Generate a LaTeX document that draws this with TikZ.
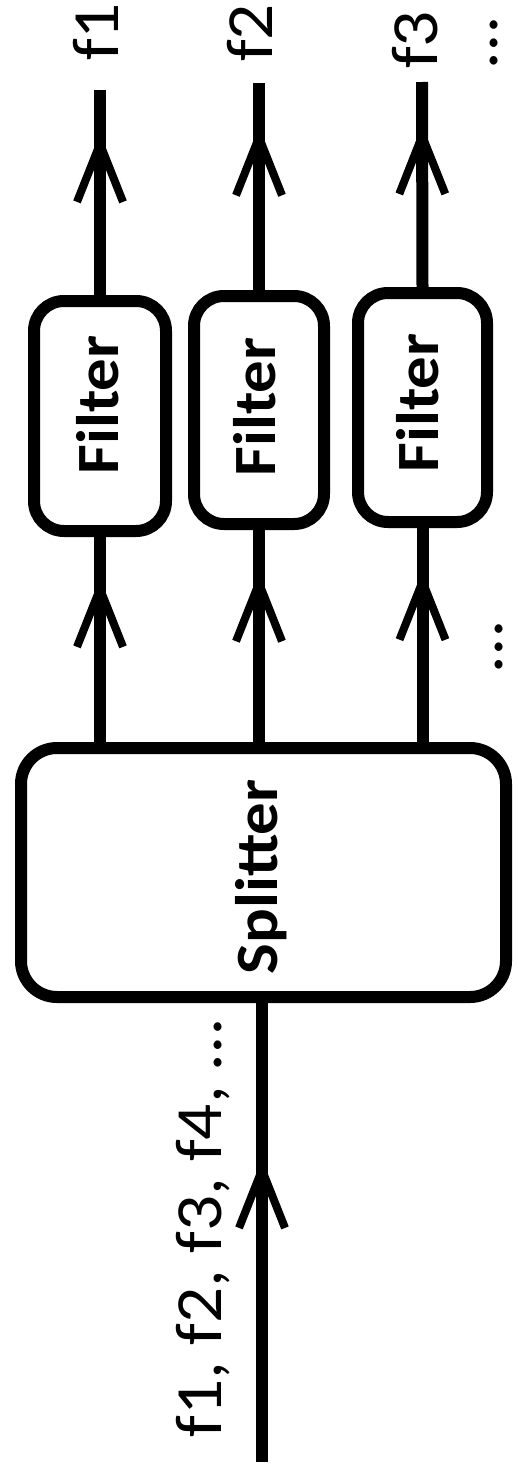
\documentclass[tikz,border=0pt]{standalone}
\usepackage{fontspec}
\setmainfont{Carlito}
\usetikzlibrary{arrows.meta,decorations.markings}
\begin{document}
\begin{tikzpicture}[x=1pt,y=-1pt,
  boxstyle/.style={draw, line width=12pt, rounded corners=#1, inner sep=0pt},
  wire/.style={line width=12pt},
  midarrow/.style={postaction={decorate}, decoration={markings,
     mark=at position #1 with {\arrow{Straight Barb[length=58pt,width=46pt,line width=8pt]}}}},
  boxtext/.style={rotate=90, anchor=base, inner sep=0pt, xscale=1.08, font=\fontsize{60}{60}\selectfont\bfseries},
  lbl/.style={rotate=90, anchor=base, inner sep=0pt, xscale=1.08, font=\fontsize{66}{66}\selectfont}
]
\useasboundingbox (0,0) rectangle (517,1480);
% splitter
\node[boxstyle=36pt, minimum width=485pt, minimum height=249pt] (S) at (263.5,872.5) {};
\node[boxtext] (St) at (277,877) {Splitter};
% filters
\node[boxstyle=30pt, minimum width=132pt, minimum height=230pt] (F1) at (100,416) {};
\node[boxstyle=30pt, minimum width=130pt, minimum height=228pt] (F2) at (259,410) {};
\node[boxstyle=30pt, minimum width=129pt, minimum height=229pt] (F3) at (422.5,407.5) {};
\node[boxtext] (F1t) at (118,405) {Filter};
\node[boxtext] (F2t) at (275,407) {Filter};
\node[boxtext] (F3t) at (438,403) {Filter};
% end points
\coordinate (IN) at (262,1462);
\coordinate (O1) at (100,90);
\coordinate (O2) at (259,83);
\coordinate (O3) at (422,82);
% wires
\draw[wire, midarrow=0.66] (IN) -- (IN |- S.south);
\draw[wire, midarrow=0.8] (F1.south |- S.north) -- (F1.south);
\draw[wire, midarrow=0.8] (F2.south |- S.north) -- (F2.south);
\draw[wire, midarrow=0.8] (F3.south |- S.north) -- (F3.south);
\draw[wire, midarrow=0.79] (F1.north) -- (O1);
\draw[wire, midarrow=0.79] (F2.north) -- (O2);
\draw[wire, midarrow=0.79] (F3.north) -- (O3);
% labels
\node[lbl] (L1) at (118,32) {f1};
\node[lbl] (L2) at (272,33) {f2};
\node[lbl] (L3) at (437,40) {f3};
\node[lbl] (Ld1) at (497,43) {…};
\node[lbl] (Ld2) at (502,647) {…};
\node[lbl] (Lin) at (221,1229) {f1, f2, f3, f4, …};
\end{tikzpicture}
\end{document}
